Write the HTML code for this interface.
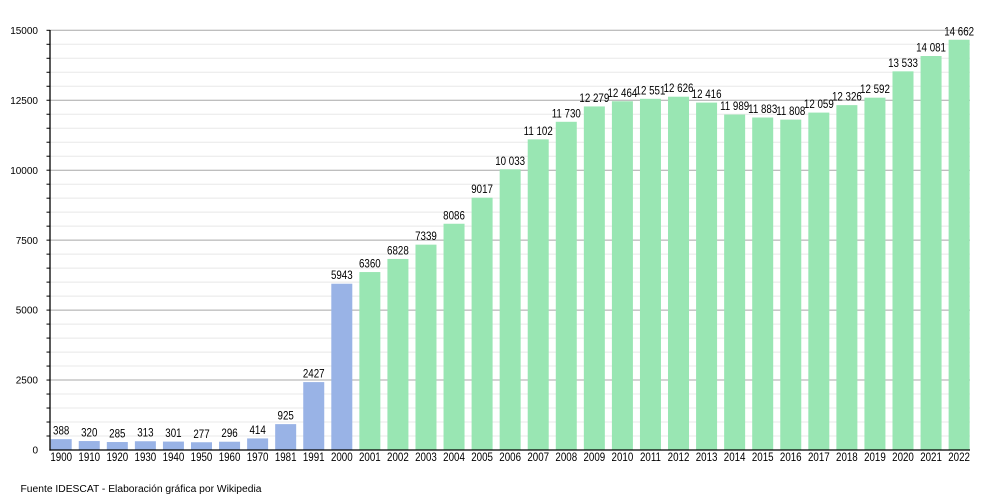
<!DOCTYPE html>
<html><head><meta charset="utf-8"><style>
html,body{margin:0;padding:0;background:#fff;}
svg{display:block;font-family:"Liberation Sans",Arial,sans-serif;}
</style></head><body>
<svg width="1000" height="500" viewBox="0 0 1000 500" xmlns="http://www.w3.org/2000/svg">
<rect width="1000" height="500" fill="#fff"/>
<g stroke="#e8e8e8" stroke-width="1">
<line x1="50" x2="970" y1="436.01" y2="436.01"/><line x1="50" x2="970" y1="422.02" y2="422.02"/><line x1="50" x2="970" y1="408.03" y2="408.03"/><line x1="50" x2="970" y1="394.04" y2="394.04"/>
<line x1="50" x2="970" y1="366.06" y2="366.06"/><line x1="50" x2="970" y1="352.07" y2="352.07"/><line x1="50" x2="970" y1="338.08" y2="338.08"/><line x1="50" x2="970" y1="324.09" y2="324.09"/>
<line x1="50" x2="970" y1="296.11" y2="296.11"/><line x1="50" x2="970" y1="282.12" y2="282.12"/><line x1="50" x2="970" y1="268.13" y2="268.13"/><line x1="50" x2="970" y1="254.14" y2="254.14"/>
<line x1="50" x2="970" y1="226.16" y2="226.16"/><line x1="50" x2="970" y1="212.17" y2="212.17"/><line x1="50" x2="970" y1="198.18" y2="198.18"/><line x1="50" x2="970" y1="184.19" y2="184.19"/>
<line x1="50" x2="970" y1="156.21" y2="156.21"/><line x1="50" x2="970" y1="142.22" y2="142.22"/><line x1="50" x2="970" y1="128.23" y2="128.23"/><line x1="50" x2="970" y1="114.24" y2="114.24"/>
<line x1="50" x2="970" y1="86.26" y2="86.26"/><line x1="50" x2="970" y1="72.27" y2="72.27"/><line x1="50" x2="970" y1="58.28" y2="58.28"/><line x1="50" x2="970" y1="44.29" y2="44.29"/>
</g>
<g stroke="#a8a8a8" stroke-width="1">
<line x1="50" x2="970" y1="380.05" y2="380.05"/><line x1="50" x2="970" y1="310.10" y2="310.10"/><line x1="50" x2="970" y1="240.15" y2="240.15"/><line x1="50" x2="970" y1="170.20" y2="170.20"/><line x1="50" x2="970" y1="100.25" y2="100.25"/><line x1="50" x2="970" y1="30.30" y2="30.30"/>
</g>
<g stroke="#000" stroke-width="1">
<line x1="46.5" x2="50" y1="436.01" y2="436.01"/><line x1="46.5" x2="50" y1="422.02" y2="422.02"/><line x1="46.5" x2="50" y1="408.03" y2="408.03"/><line x1="46.5" x2="50" y1="394.04" y2="394.04"/><line x1="46.5" x2="50" y1="380.05" y2="380.05"/>
<line x1="46.5" x2="50" y1="366.06" y2="366.06"/><line x1="46.5" x2="50" y1="352.07" y2="352.07"/><line x1="46.5" x2="50" y1="338.08" y2="338.08"/><line x1="46.5" x2="50" y1="324.09" y2="324.09"/><line x1="46.5" x2="50" y1="310.10" y2="310.10"/>
<line x1="46.5" x2="50" y1="296.11" y2="296.11"/><line x1="46.5" x2="50" y1="282.12" y2="282.12"/><line x1="46.5" x2="50" y1="268.13" y2="268.13"/><line x1="46.5" x2="50" y1="254.14" y2="254.14"/><line x1="46.5" x2="50" y1="240.15" y2="240.15"/>
<line x1="46.5" x2="50" y1="226.16" y2="226.16"/><line x1="46.5" x2="50" y1="212.17" y2="212.17"/><line x1="46.5" x2="50" y1="198.18" y2="198.18"/><line x1="46.5" x2="50" y1="184.19" y2="184.19"/><line x1="46.5" x2="50" y1="170.20" y2="170.20"/>
<line x1="46.5" x2="50" y1="156.21" y2="156.21"/><line x1="46.5" x2="50" y1="142.22" y2="142.22"/><line x1="46.5" x2="50" y1="128.23" y2="128.23"/><line x1="46.5" x2="50" y1="114.24" y2="114.24"/><line x1="46.5" x2="50" y1="100.25" y2="100.25"/>
<line x1="46.5" x2="50" y1="86.26" y2="86.26"/><line x1="46.5" x2="50" y1="72.27" y2="72.27"/><line x1="46.5" x2="50" y1="58.28" y2="58.28"/><line x1="46.5" x2="50" y1="44.29" y2="44.29"/><line x1="46.5" x2="50" y1="30.30" y2="30.30"/>
</g>
<g fill="#99b3e6">
<rect x="50.70" y="439.14" width="21" height="10.86"/>
<rect x="78.76" y="441.05" width="21" height="8.95"/>
<rect x="106.82" y="442.03" width="21" height="7.97"/>
<rect x="134.88" y="441.24" width="21" height="8.76"/>
<rect x="162.94" y="441.58" width="21" height="8.42"/>
<rect x="191.00" y="442.25" width="21" height="7.75"/>
<rect x="219.06" y="441.72" width="21" height="8.28"/>
<rect x="247.12" y="438.42" width="21" height="11.58"/>
<rect x="275.18" y="424.12" width="21" height="25.88"/>
<rect x="303.24" y="382.09" width="21" height="67.91"/>
<rect x="331.30" y="283.72" width="21" height="166.28"/>
</g>
<g fill="#99e6b3">
<rect x="359.36" y="272.05" width="21" height="177.95"/>
<rect x="387.42" y="258.95" width="21" height="191.05"/>
<rect x="415.48" y="244.65" width="21" height="205.35"/>
<rect x="443.54" y="223.75" width="21" height="226.25"/>
<rect x="471.60" y="197.70" width="21" height="252.30"/>
<rect x="499.66" y="169.28" width="21" height="280.72"/>
<rect x="527.72" y="139.37" width="21" height="310.63"/>
<rect x="555.78" y="121.79" width="21" height="328.21"/>
<rect x="583.84" y="106.43" width="21" height="343.57"/>
<rect x="611.90" y="101.26" width="21" height="348.74"/>
<rect x="639.96" y="98.82" width="21" height="351.18"/>
<rect x="668.02" y="96.72" width="21" height="353.28"/>
<rect x="696.08" y="102.60" width="21" height="347.40"/>
<rect x="724.14" y="114.55" width="21" height="335.45"/>
<rect x="752.20" y="117.51" width="21" height="332.49"/>
<rect x="780.26" y="119.61" width="21" height="330.39"/>
<rect x="808.32" y="112.59" width="21" height="337.41"/>
<rect x="836.38" y="105.12" width="21" height="344.88"/>
<rect x="864.44" y="97.68" width="21" height="352.32"/>
<rect x="892.50" y="71.35" width="21" height="378.65"/>
<rect x="920.56" y="56.01" width="21" height="393.99"/>
<rect x="948.62" y="39.76" width="21" height="410.24"/>
</g>
<g stroke="#000" stroke-width="1.3">
<line x1="50" x2="50" y1="30" y2="450.6"/>
<line x1="49.4" x2="970" y1="450" y2="450"/>
</g>
<g font-size="10" fill="#000" text-anchor="end">
<text x="38" y="453.6">0</text>
<text x="38" y="383.65">2500</text>
<text x="38" y="313.7">5000</text>
<text x="38" y="243.75">7500</text>
<text x="38" y="173.8">10000</text>
<text x="38" y="103.85">12500</text>
<text x="38" y="33.9">15000</text>
</g>
<g font-size="11.5" fill="#000" text-anchor="middle">
<text transform="translate(61.20 434.64) scale(0.85 1)">388</text>
<text transform="translate(89.26 436.55) scale(0.85 1)">320</text>
<text transform="translate(117.32 437.53) scale(0.85 1)">285</text>
<text transform="translate(145.38 436.74) scale(0.85 1)">313</text>
<text transform="translate(173.44 437.08) scale(0.85 1)">301</text>
<text transform="translate(201.50 437.75) scale(0.85 1)">277</text>
<text transform="translate(229.56 437.22) scale(0.85 1)">296</text>
<text transform="translate(257.62 433.92) scale(0.85 1)">414</text>
<text transform="translate(285.68 419.62) scale(0.85 1)">925</text>
<text transform="translate(313.74 377.59) scale(0.85 1)">2427</text>
<text transform="translate(341.80 279.22) scale(0.85 1)">5943</text>
<text transform="translate(369.86 267.55) scale(0.85 1)">6360</text>
<text transform="translate(397.92 254.45) scale(0.85 1)">6828</text>
<text transform="translate(425.98 240.15) scale(0.85 1)">7339</text>
<text transform="translate(454.04 219.25) scale(0.85 1)">8086</text>
<text transform="translate(482.10 193.20) scale(0.85 1)">9017</text>
<text transform="translate(510.16 164.78) scale(0.85 1)">10 033</text>
<text transform="translate(538.22 134.87) scale(0.85 1)">11 102</text>
<text transform="translate(566.28 117.29) scale(0.85 1)">11 730</text>
<text transform="translate(594.34 101.93) scale(0.85 1)">12 279</text>
<text transform="translate(622.40 96.76) scale(0.85 1)">12 464</text>
<text transform="translate(650.46 94.32) scale(0.85 1)">12 551</text>
<text transform="translate(678.52 92.22) scale(0.85 1)">12 626</text>
<text transform="translate(706.58 98.10) scale(0.85 1)">12 416</text>
<text transform="translate(734.64 110.05) scale(0.85 1)">11 989</text>
<text transform="translate(762.70 113.01) scale(0.85 1)">11 883</text>
<text transform="translate(790.76 115.11) scale(0.85 1)">11 808</text>
<text transform="translate(818.82 108.09) scale(0.85 1)">12 059</text>
<text transform="translate(846.88 100.62) scale(0.85 1)">12 326</text>
<text transform="translate(874.94 93.18) scale(0.85 1)">12 592</text>
<text transform="translate(903.00 66.85) scale(0.85 1)">13 533</text>
<text transform="translate(931.06 51.51) scale(0.85 1)">14 081</text>
<text transform="translate(959.12 35.26) scale(0.85 1)">14 662</text>
</g>
<g font-size="11.5" fill="#000" text-anchor="middle">
<text transform="translate(61.20 460.8) scale(0.85 1)">1900</text>
<text transform="translate(89.26 460.8) scale(0.85 1)">1910</text>
<text transform="translate(117.32 460.8) scale(0.85 1)">1920</text>
<text transform="translate(145.38 460.8) scale(0.85 1)">1930</text>
<text transform="translate(173.44 460.8) scale(0.85 1)">1940</text>
<text transform="translate(201.50 460.8) scale(0.85 1)">1950</text>
<text transform="translate(229.56 460.8) scale(0.85 1)">1960</text>
<text transform="translate(257.62 460.8) scale(0.85 1)">1970</text>
<text transform="translate(285.68 460.8) scale(0.85 1)">1981</text>
<text transform="translate(313.74 460.8) scale(0.85 1)">1991</text>
<text transform="translate(341.80 460.8) scale(0.85 1)">2000</text>
<text transform="translate(369.86 460.8) scale(0.85 1)">2001</text>
<text transform="translate(397.92 460.8) scale(0.85 1)">2002</text>
<text transform="translate(425.98 460.8) scale(0.85 1)">2003</text>
<text transform="translate(454.04 460.8) scale(0.85 1)">2004</text>
<text transform="translate(482.10 460.8) scale(0.85 1)">2005</text>
<text transform="translate(510.16 460.8) scale(0.85 1)">2006</text>
<text transform="translate(538.22 460.8) scale(0.85 1)">2007</text>
<text transform="translate(566.28 460.8) scale(0.85 1)">2008</text>
<text transform="translate(594.34 460.8) scale(0.85 1)">2009</text>
<text transform="translate(622.40 460.8) scale(0.85 1)">2010</text>
<text transform="translate(650.46 460.8) scale(0.85 1)">2011</text>
<text transform="translate(678.52 460.8) scale(0.85 1)">2012</text>
<text transform="translate(706.58 460.8) scale(0.85 1)">2013</text>
<text transform="translate(734.64 460.8) scale(0.85 1)">2014</text>
<text transform="translate(762.70 460.8) scale(0.85 1)">2015</text>
<text transform="translate(790.76 460.8) scale(0.85 1)">2016</text>
<text transform="translate(818.82 460.8) scale(0.85 1)">2017</text>
<text transform="translate(846.88 460.8) scale(0.85 1)">2018</text>
<text transform="translate(874.94 460.8) scale(0.85 1)">2019</text>
<text transform="translate(903.00 460.8) scale(0.85 1)">2020</text>
<text transform="translate(931.06 460.8) scale(0.85 1)">2021</text>
<text transform="translate(959.12 460.8) scale(0.85 1)">2022</text>
</g>
<text x="20.5" y="492" font-size="10" fill="#000" textLength="241" lengthAdjust="spacingAndGlyphs">Fuente IDESCAT - Elaboración gráfica por Wikipedia</text>
</svg>
</body></html>
